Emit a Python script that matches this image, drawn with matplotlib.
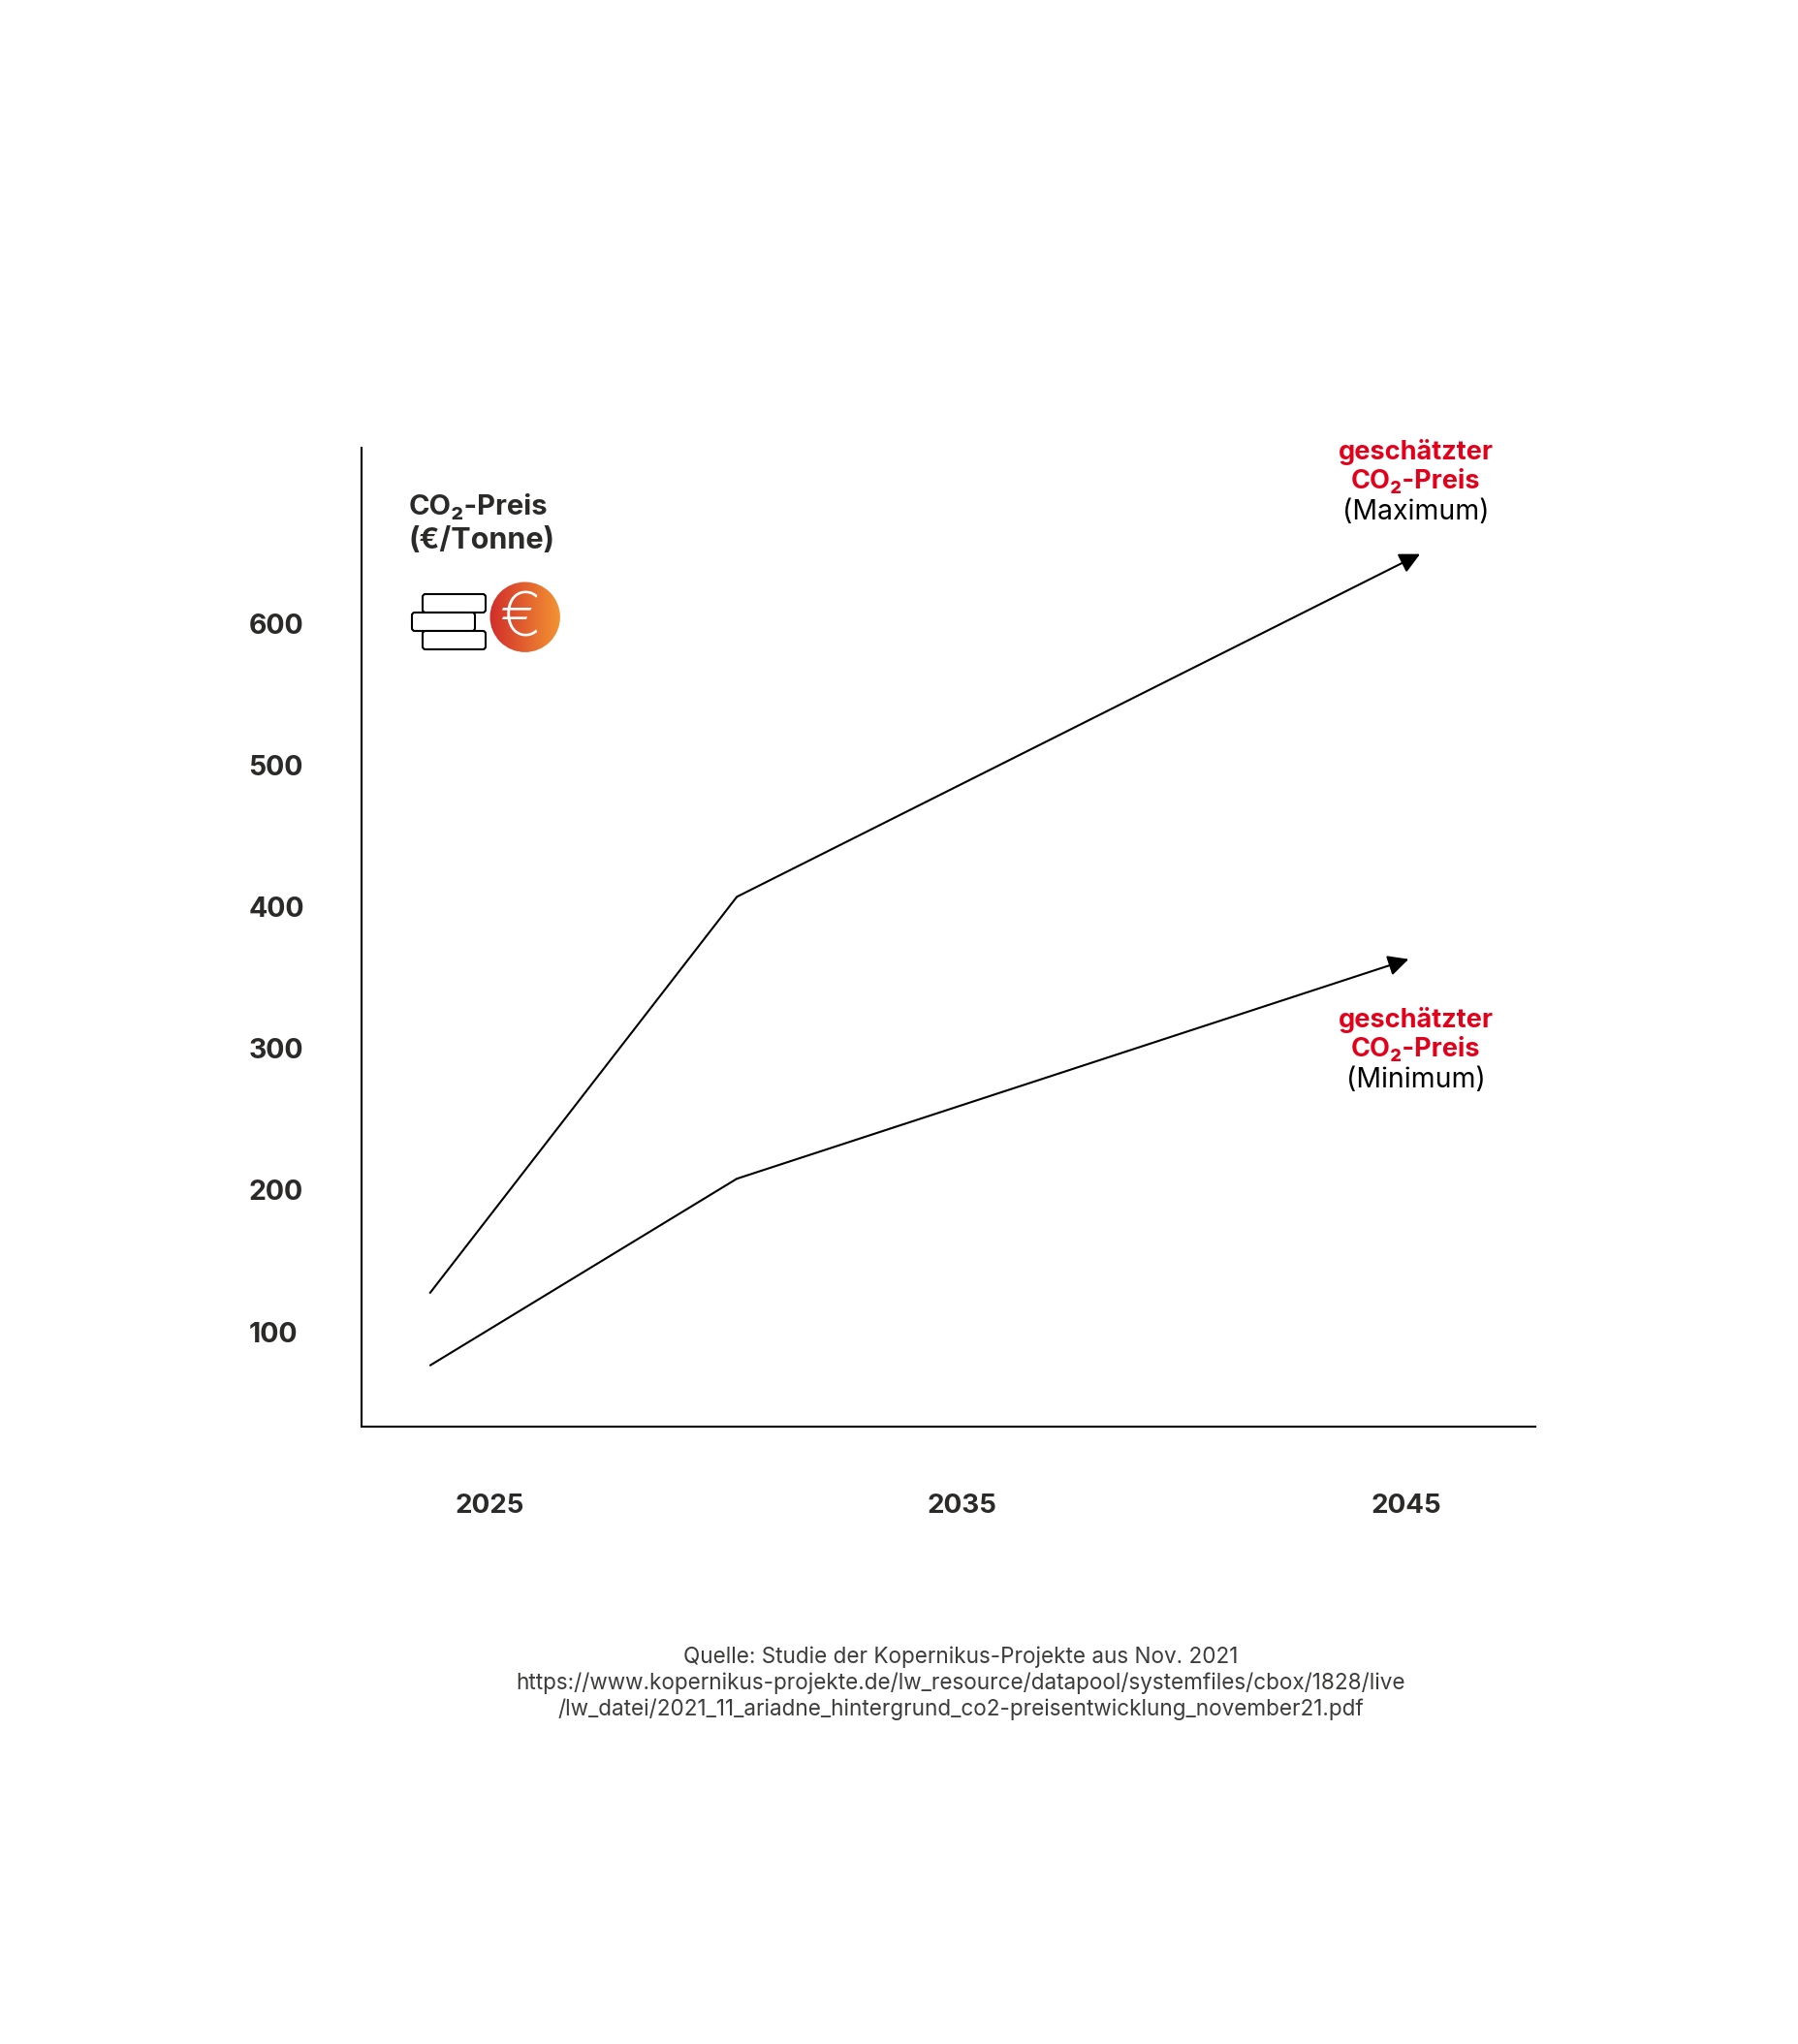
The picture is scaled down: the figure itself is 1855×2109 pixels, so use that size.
import numpy as np
import matplotlib
matplotlib.use("Agg")
import matplotlib.pyplot as plt
from matplotlib.colors import LinearSegmentedColormap
from matplotlib.patches import Circle, FancyBboxPatch

plt.rcParams['font.family'] = ['Inter', 'DejaVu Sans']

years_max = [2023.7, 2030.4, 2045.3]
price_max = [127, 407, 649]
years_min = [2023.7, 2030.4, 2045.05]
price_min = [76, 208, 363]

y_ticks = [100, 200, 300, 400, 500, 600]
x_ticks = [2025, 2035.3, 2045.0]
x_tick_labels = ['2025', '2035', '2045']

source_lines = ["Quelle: Studie der Kopernikus-Projekte aus Nov. 2021",
                "https://www.kopernikus-projekte.de/lw_resource/datapool/systemfiles/cbox/1828/live",
                "/lw_datei/2021_11_ariadne_hintergrund_co2-preisentwicklung_november21.pdf"]

W, H = 1856, 2109
dark = '#2b2a29'
red = '#e2001a'

fig = plt.figure(figsize=(W / 100, H / 100), dpi=100)
ax = fig.add_axes([373 / W, 1 - 1472 / H, (1584 - 373) / W, (1472 - 462) / H])

for yrs, vals in [(years_max, price_max), (years_min, price_min)]:
    ax.plot(yrs[:-1], vals[:-1], color='black', lw=1.5, solid_capstyle='butt')
    ax.annotate('', xy=(yrs[-1], vals[-1]), xytext=(yrs[-2], vals[-2]),
                arrowprops=dict(arrowstyle='-|>', color='black', lw=1.5,
                                mutation_scale=32, shrinkA=0, shrinkB=0))

ax.set_xlim(2025 + (277 - 375) / 35.2, 2025 + (1178 - 375) / 35.2)
ax.set_ylim(33, 724)
for s in ['top', 'right']:
    ax.spines[s].set_visible(False)
for s in ['left', 'bottom']:
    ax.spines[s].set_linewidth(1.5)

ax.set_xticks(x_ticks, x_tick_labels, fontsize=20, fontweight='bold', color=dark)
ax.set_yticks(y_ticks, [str(v) for v in y_ticks], fontsize=20.5, fontweight='bold',
              color=dark, ha='left')
ax.tick_params(axis='x', length=0, pad=50)
ax.tick_params(axis='y', length=0, pad=84)

# overlay in reference pixels for the notes and the icon
ov = fig.add_axes([0, 0, 1, 1])
ov.set_xlim(0, W)
ov.set_ylim(H, 0)
ov.axis('off')
ov.patch.set_alpha(0)

ov.text(422, 523, 'CO₂-Preis', fontsize=21, fontweight='bold', color=dark, va='center')
ov.text(422, 558, '(€/Tonne)', fontsize=22, fontweight='bold', color=dark, va='center')

for cx, y0, note in [(1461, 466, '(Maximum)'), (1461, 1052, '(Minimum)')]:
    ov.text(cx, y0, 'geschätzter', fontsize=19.5, fontweight='bold', color=red, ha='center', va='center')
    ov.text(cx, y0 + 31, 'CO₂-Preis', fontsize=19.5, fontweight='bold', color=red, ha='center', va='center')
    ov.text(cx, y0 + 62, note, fontsize=20.5, color='black', ha='center', va='center')

for i, line in enumerate(source_lines):
    ov.text(991, 1710 + i * 26.8, line, fontsize=16.2, color='#3c3c3b', ha='center', va='center')

# coin stack
for x0, y0, w in [(436, 613, 65), (425, 632, 65), (436, 651, 65)]:
    ov.add_patch(FancyBboxPatch((x0 + 3, y0 + 3), w - 6, 13, boxstyle='round,pad=3',
                                fc='white', ec='black', lw=1.5))

# euro coin with gradient
cmap = LinearSegmentedColormap.from_list('coin', ['#d12d2a', '#f39433'])
im = ov.imshow(np.linspace(0, 1, 256).reshape(1, -1), cmap=cmap, aspect='auto',
               extent=(505.5, 578, 673, 600.5), zorder=2)
im.set_clip_path(Circle((541.7, 636.7), 36.2, transform=ov.transData))
ov.set_xlim(0, W)
ov.set_ylim(H, 0)
ov.text(537, 640, '€', fontsize=46, color='white', fontweight='light', ha='center', va='center', zorder=3)

fig.savefig('out.png', dpi=100, facecolor='white')
